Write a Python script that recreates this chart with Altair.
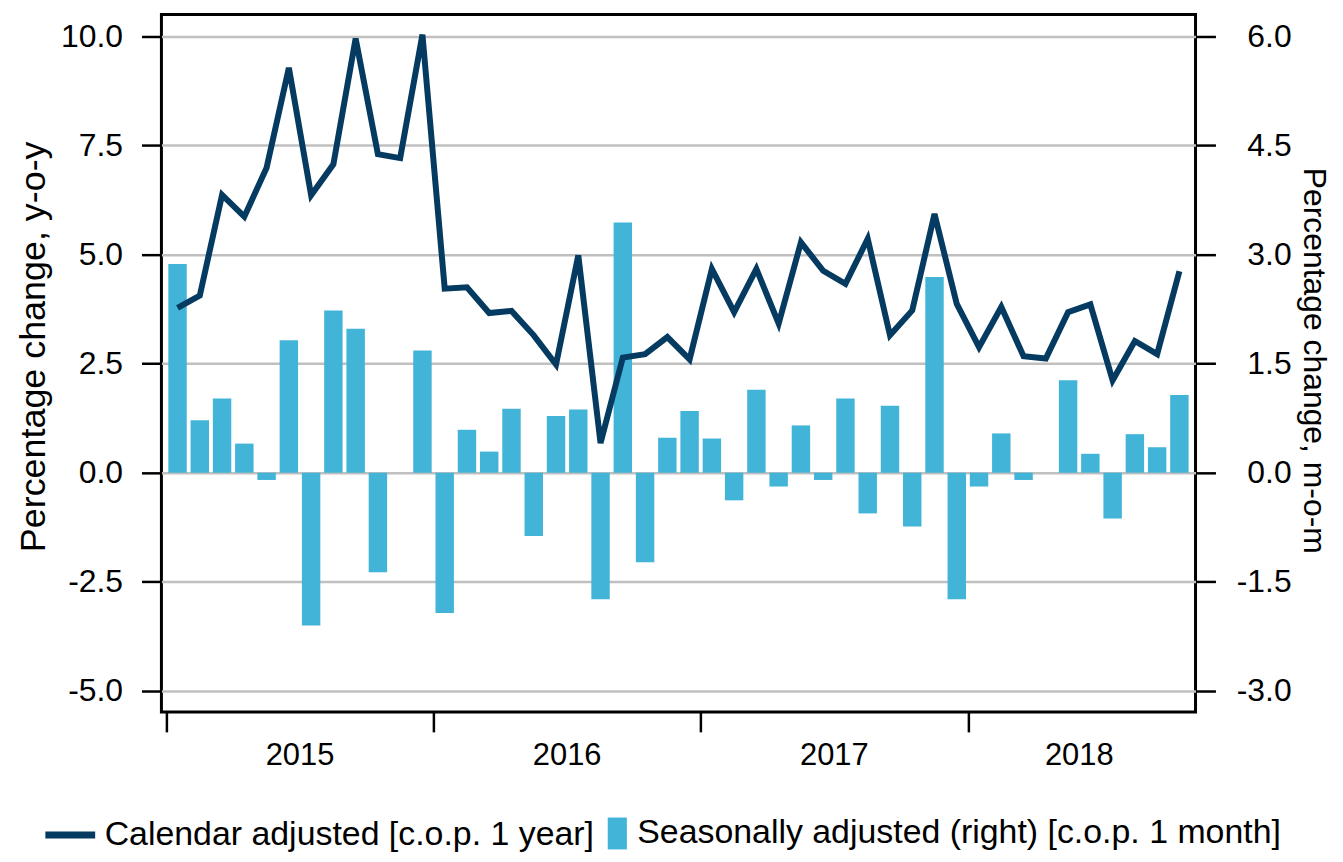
import altair as alt
import pandas as pd

# ---- data ----
years = [2015, 2016, 2017, 2018]
months = [f"{y}-{m:02d}" for y in years for m in range(1, 13)][:46]  # Jan 2015 .. Oct 2018

calendar_adjusted = [
    3.78, 4.06, 6.37, 5.87, 6.99, 9.28, 6.36, 7.07, 9.95, 7.30, 7.21, 10.04,
    4.22, 4.25, 3.66, 3.71, 3.15, 2.48, 4.98, 0.68, 2.64, 2.72, 3.11, 2.60,
    4.67, 3.68, 4.67, 3.42, 5.28, 4.63, 4.33, 5.36, 3.15, 3.72, 5.93, 3.87,
    2.88, 3.80, 2.67, 2.62, 3.68, 3.86, 2.12, 3.02, 2.72, 4.62,
]
seasonally_adjusted = [
    2.87, 0.72, 1.02, 0.40, -0.10, 1.82, -2.10, 2.23, 1.98, -1.37, 0.00, 1.68,
    -1.93, 0.59, 0.29, 0.88, -0.87, 0.78, 0.87, -1.74, 3.44, -1.23, 0.48, 0.85,
    0.47, -0.38, 1.14, -0.19, 0.65, -0.10, 1.02, -0.56, 0.92, -0.74, 2.69, -1.74,
    -0.19, 0.54, -0.10, 0.00, 1.27, 0.26, -0.63, 0.53, 0.35, 1.07,
]
left_ticks = [-5.0, -2.5, 0.0, 2.5, 5.0, 7.5, 10.0]
right_ticks = [-3.0, -1.5, 0.0, 1.5, 3.0, 4.5, 6.0]
year_labels = [str(y) for y in years]

CAL_NAME = "Calendar adjusted [c.o.p. 1 year]"
SA_NAME = "Seasonally adjusted (right) [c.o.p. 1 month]"
NAVY = "#053a61"
BLUE = "#42b4d8"
GRID = "#c0c0c0"
FONT = "Liberation Sans"
HYPHEN_LABEL = "(datum.value < 0 ? '-' : '') + format(abs(datum.value), '.1f')"

n = len(months)
df = pd.DataFrame({
    "idx": list(range(n)),
    "month": months,
    "cal": calendar_adjusted,
    "sa": seasonally_adjusted,
    "cal_name": CAL_NAME,
    "sa_name": SA_NAME,
})

# year boundaries and mid-year label positions derived from the month list
month_years = [m[:4] for m in months]
boundaries = [month_years.index(y) - 0.5 for y in year_labels]
label_pos = [sum(i for i, my in enumerate(month_years) if my == y) / month_years.count(y)
             for y in year_labels]
years_df = pd.DataFrame({"pos": label_pos, "year": year_labels})

W, H = 1038, 700
x_scale = alt.Scale(domain=[-0.5, n - 0.5], nice=False, zero=False)
x_axis = alt.Axis(values=boundaries, labels=False, title=None, grid=False, domain=False,
                  tickSize=20, tickWidth=2.5, tickColor="black")

left_axis = alt.Axis(orient="left", values=left_ticks, labelExpr=HYPHEN_LABEL, grid=True,
                     gridColor=GRID, gridWidth=2.5, domain=False,
                     tickSize=20, tickWidth=2.5, tickColor="black",
                     labelFont=FONT, labelFontSize=32, labelColor="black", labelPadding=19,
                     title="Percentage change, y-o-y", titleFont=FONT, titleFontSize=36,
                     titleFontWeight="normal", titleColor="black", titleAngle=270,
                     titleX=-128, titleY=333, titleAlign="center", titleBaseline="middle")
right_axis = alt.Axis(orient="right", values=right_ticks, labelExpr=HYPHEN_LABEL, grid=False,
                      domain=False, tickSize=20, tickWidth=2.5, tickColor="black",
                      labelFont=FONT, labelFontSize=32, labelColor="black",
                      labelAlign="right", labelPadding=76,
                      title="Percentage change, m-o-m", titleFont=FONT, titleFontSize=32,
                      titleFontWeight="normal", titleColor="black", titleAngle=90,
                      titleX=118, titleY=347, titleAlign="center", titleBaseline="middle")

bars = alt.Chart(df).mark_bar(width=18.5).encode(
    x=alt.X("idx:Q", scale=x_scale, axis=x_axis),
    y=alt.Y("sa:Q", scale=alt.Scale(domain=[-3.29, 6.30], nice=False, zero=False),
            axis=right_axis),
    fill=alt.Fill("sa_name:N", scale=alt.Scale(domain=[SA_NAME], range=[BLUE]),
                  legend=alt.Legend(orient="none", legendX=440.6, legendY=805, title=None,
                                    symbolType="M-0.6,-1H0.6V1H-0.6Z", symbolSize=1024,
                                    symbolStrokeWidth=0, labelOffset=3, padding=0,
                                    labelLimit=0,
                                    labelFont=FONT, labelFontSize=34, labelColor="black")),
)

line = alt.Chart(df).mark_line(strokeWidth=6).encode(
    x=alt.X("idx:Q", scale=x_scale, axis=x_axis),
    y=alt.Y("cal:Q", scale=alt.Scale(domain=[-5.48, 10.50], nice=False, zero=False),
            axis=left_axis),
    stroke=alt.Stroke("cal_name:N", scale=alt.Scale(domain=[CAL_NAME], range=[NAVY]),
                      legend=alt.Legend(orient="none", legendX=-120, legendY=795, title=None,
                                        symbolType="stroke", symbolSize=2500,
                                        symbolStrokeWidth=7, labelOffset=6, padding=0,
                                        labelLimit=0,
                                        labelFont=FONT, labelFontSize=34, labelColor="black")),
)

year_text = alt.Chart(years_df).mark_text(font=FONT, fontSize=31, color="black",
                                          baseline="middle", align="center").encode(
    x=alt.X("pos:Q", scale=x_scale, axis=x_axis),
    y=alt.value(H + 44),
    text="year:N",
)

chart = alt.layer(bars, line, year_text).resolve_scale(
    y="independent"
).properties(
    width=W, height=H,
    autosize=alt.AutoSizeParams(type="none"),
    padding={"left": 154, "top": 5, "right": 140, "bottom": 141},
).configure_view(
    stroke="black", strokeWidth=3
)

chart.save("out.html", embed_options={"renderer": "svg", "actions": False})
